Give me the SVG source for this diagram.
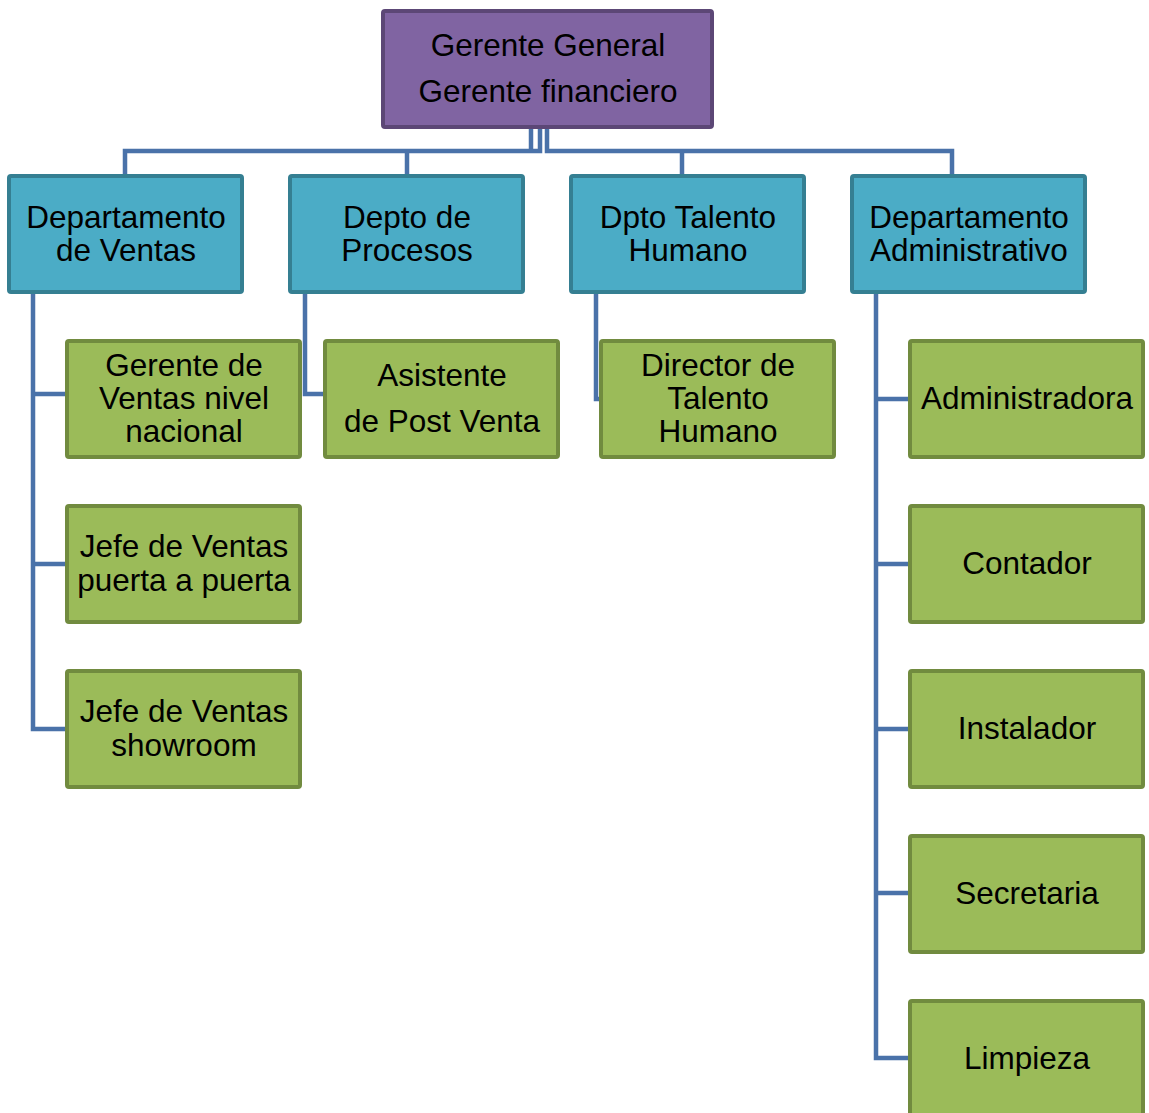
<svg xmlns="http://www.w3.org/2000/svg" width="1149" height="1113" viewBox="0 0 1149 1113">
<style>
text{font-family:"Liberation Sans",Arial,sans-serif;font-size:31.5px;fill:#000;text-anchor:middle}
.top{fill:#8064a2;stroke:#5c4776;stroke-width:4}
.dep{fill:#4bacc6;stroke:#357f92;stroke-width:4}
.leaf{fill:#9bbb59;stroke:#718b3f;stroke-width:4}
.c{fill:none;stroke:#4a72a9;stroke-width:4.5}
</style>
<rect width="1149" height="1113" fill="#fff"/>
<g id="connectors">
<path class="c" d="M531 128V151"/>
<path class="c" d="M540 128V151H125V175"/>
<path class="c" d="M407 151V175"/>
<path class="c" d="M547 128V151H952V175"/>
<path class="c" d="M682 151V175"/>
<path class="c" d="M33 293V729H66M33 394H66M33 564H66"/>
<path class="c" d="M305 293V394H324"/>
<path class="c" d="M596 293V399H600"/>
<path class="c" d="M876 293V1058H909M876 399H909M876 564H909M876 729H909M876 893H909"/>
</g>
<g id="gerente"><rect class="top" x="383" y="11" width="329" height="116" rx="2"/><text x="548" y="56">Gerente General</text><text x="548" y="102">Gerente financiero</text></g>
<g id="ventas"><rect class="dep" x="9" y="176" width="233" height="116" rx="2"/><text x="126" y="228">Departamento</text><text x="126" y="261">de Ventas</text></g>
<g id="procesos"><rect class="dep" x="290" y="176" width="233" height="116" rx="2"/><text x="407" y="228">Depto de</text><text x="407" y="261">Procesos</text></g>
<g id="talento"><rect class="dep" x="571" y="176" width="233" height="116" rx="2"/><text x="688" y="228">Dpto Talento</text><text x="688" y="261">Humano</text></g>
<g id="admin"><rect class="dep" x="852" y="176" width="233" height="116" rx="2"/><text x="969" y="228">Departamento</text><text x="969" y="261">Administrativo</text></g>
<g id="gerente-ventas"><rect class="leaf" x="67" y="341" width="233" height="116" rx="2"/><text x="184" y="376">Gerente de</text><text x="184" y="409">Ventas nivel</text><text x="184" y="442">nacional</text></g>
<g id="jefe-puerta"><rect class="leaf" x="67" y="506" width="233" height="116" rx="2"/><text x="184" y="557">Jefe de Ventas</text><text x="184" y="591">puerta a puerta</text></g>
<g id="jefe-showroom"><rect class="leaf" x="67" y="671" width="233" height="116" rx="2"/><text x="184" y="722">Jefe de Ventas</text><text x="184" y="756">showroom</text></g>
<g id="asistente"><rect class="leaf" x="325" y="341" width="233" height="116" rx="2"/><text x="442" y="386">Asistente</text><text x="442" y="432">de Post Venta</text></g>
<g id="director"><rect class="leaf" x="601" y="341" width="233" height="116" rx="2"/><text x="718" y="376">Director de</text><text x="718" y="409">Talento</text><text x="718" y="442">Humano</text></g>
<g id="administradora"><rect class="leaf" x="910" y="341" width="233" height="116" rx="2"/><text x="1027" y="409">Administradora</text></g>
<g id="contador"><rect class="leaf" x="910" y="506" width="233" height="116" rx="2"/><text x="1027" y="574">Contador</text></g>
<g id="instalador"><rect class="leaf" x="910" y="671" width="233" height="116" rx="2"/><text x="1027" y="739">Instalador</text></g>
<g id="secretaria"><rect class="leaf" x="910" y="836" width="233" height="116" rx="2"/><text x="1027" y="904">Secretaria</text></g>
<g id="limpieza"><rect class="leaf" x="910" y="1001" width="233" height="116" rx="2"/><text x="1027" y="1069">Limpieza</text></g>
</svg>
